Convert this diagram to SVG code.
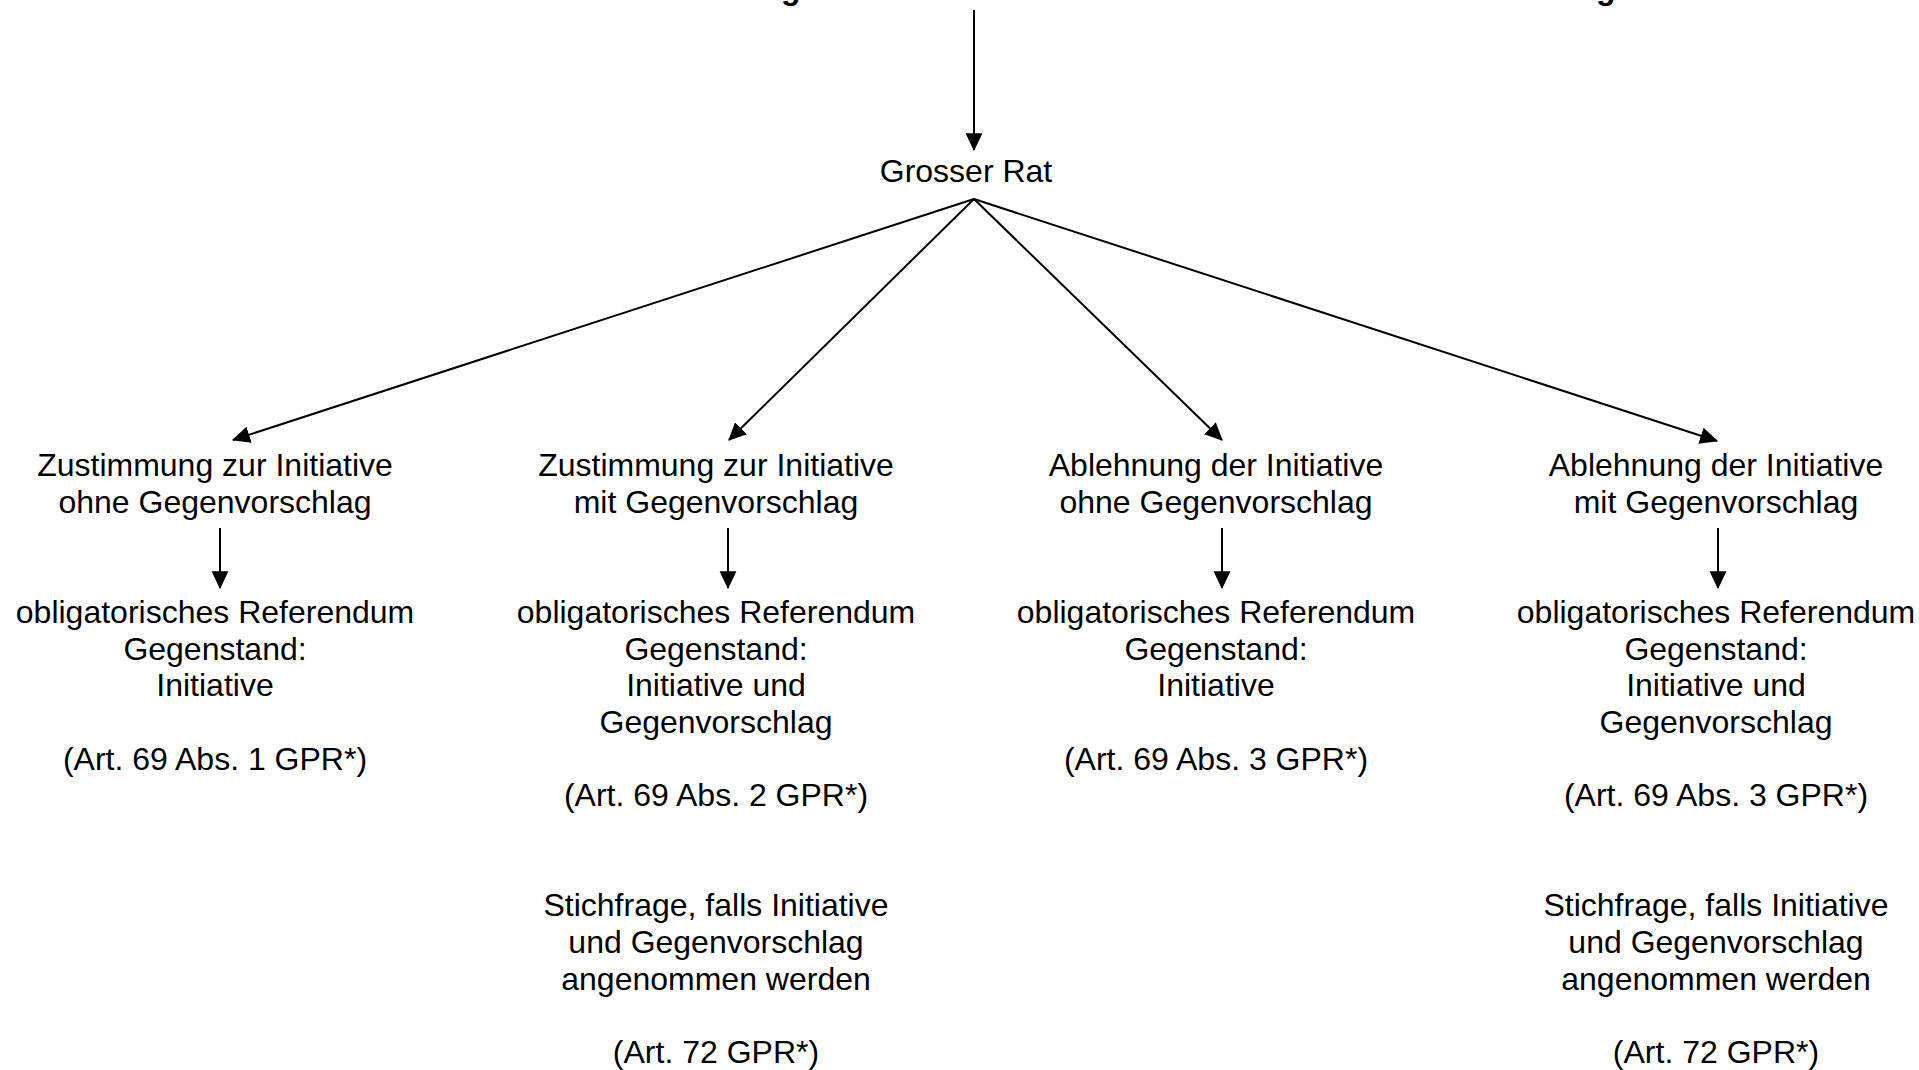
<svg xmlns="http://www.w3.org/2000/svg" width="1919" height="1070" viewBox="0 0 1919 1070">
  <style>
    text { font-family: "Liberation Sans", Arial, sans-serif; font-size: 32px; fill: #000; text-anchor: middle; }
    .cut { font-weight: bold; text-anchor: start; }
    .conn { stroke: #000; stroke-width: 2; fill: none; }
  </style>
  <defs>
    <marker id="arr" markerUnits="userSpaceOnUse" markerWidth="18" markerHeight="18" viewBox="0 0 16 16" refX="15" refY="8" orient="auto">
      <path d="M0,0.5 L16,8 L0,15.5 Z" fill="#000"/>
    </marker>
  </defs>
  <rect width="1919" height="1070" fill="#fff"/>

  <g id="top-cut">
    <text class="cut" x="781" y="-1.5">g</text>
    <text class="cut" x="1596" y="-1.5">g</text>
  </g>

  <g id="connectors">
    <line class="conn" x1="974" y1="10" x2="974" y2="150" marker-end="url(#arr)"/>
    <line class="conn" x1="974" y1="199" x2="233" y2="440" marker-end="url(#arr)"/>
    <line class="conn" x1="974" y1="199" x2="729" y2="440" marker-end="url(#arr)"/>
    <line class="conn" x1="974" y1="199" x2="1222" y2="440" marker-end="url(#arr)"/>
    <line class="conn" x1="974" y1="199" x2="1717" y2="441" marker-end="url(#arr)"/>
    <line class="conn" x1="220" y1="528" x2="220" y2="588" marker-end="url(#arr)"/>
    <line class="conn" x1="728" y1="528" x2="728" y2="588" marker-end="url(#arr)"/>
    <line class="conn" x1="1222" y1="528" x2="1222" y2="588" marker-end="url(#arr)"/>
    <line class="conn" x1="1718" y1="528" x2="1718" y2="588" marker-end="url(#arr)"/>
  </g>

  <g id="grosser-rat">
    <text x="966" y="182">Grosser Rat</text>
  </g>

  <g id="col1-decision">
    <text x="215" y="476">Zustimmung zur Initiative</text>
    <text x="215" y="512.7">ohne Gegenvorschlag</text>
  </g>
  <g id="col1-result">
    <text x="215" y="622.8">obligatorisches Referendum</text>
    <text x="215" y="659.5">Gegenstand:</text>
    <text x="215" y="696.2">Initiative</text>
    <text x="215" y="769.6">(Art. 69 Abs. 1 GPR*)</text>
  </g>

  <g id="col2-decision">
    <text x="716" y="476">Zustimmung zur Initiative</text>
    <text x="716" y="512.7">mit Gegenvorschlag</text>
  </g>
  <g id="col2-result">
    <text x="716" y="622.8">obligatorisches Referendum</text>
    <text x="716" y="659.5">Gegenstand:</text>
    <text x="716" y="696.2">Initiative und</text>
    <text x="716" y="732.9">Gegenvorschlag</text>
    <text x="716" y="806.3">(Art. 69 Abs. 2 GPR*)</text>
    <text x="716" y="916.4">Stichfrage, falls Initiative</text>
    <text x="716" y="953.1">und Gegenvorschlag</text>
    <text x="716" y="989.8">angenommen werden</text>
    <text x="716" y="1063.2">(Art. 72 GPR*)</text>
  </g>

  <g id="col3-decision">
    <text x="1216" y="476">Ablehnung der Initiative</text>
    <text x="1216" y="512.7">ohne Gegenvorschlag</text>
  </g>
  <g id="col3-result">
    <text x="1216" y="622.8">obligatorisches Referendum</text>
    <text x="1216" y="659.5">Gegenstand:</text>
    <text x="1216" y="696.2">Initiative</text>
    <text x="1216" y="769.6">(Art. 69 Abs. 3 GPR*)</text>
  </g>

  <g id="col4-decision">
    <text x="1716" y="476">Ablehnung der Initiative</text>
    <text x="1716" y="512.7">mit Gegenvorschlag</text>
  </g>
  <g id="col4-result">
    <text x="1716" y="622.8">obligatorisches Referendum</text>
    <text x="1716" y="659.5">Gegenstand:</text>
    <text x="1716" y="696.2">Initiative und</text>
    <text x="1716" y="732.9">Gegenvorschlag</text>
    <text x="1716" y="806.3">(Art. 69 Abs. 3 GPR*)</text>
    <text x="1716" y="916.4">Stichfrage, falls Initiative</text>
    <text x="1716" y="953.1">und Gegenvorschlag</text>
    <text x="1716" y="989.8">angenommen werden</text>
    <text x="1716" y="1063.2">(Art. 72 GPR*)</text>
  </g>
</svg>
